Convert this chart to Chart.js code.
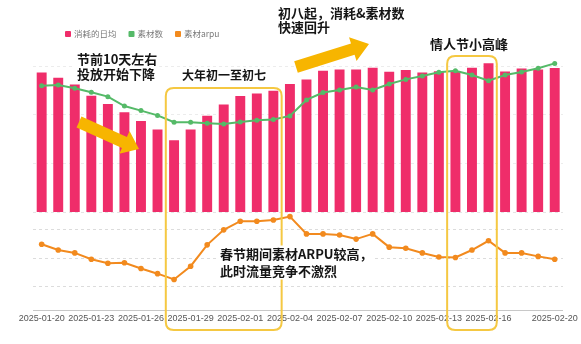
<!DOCTYPE html>
<html>
<head>
<meta charset="utf-8">
<script src="https://cdn.jsdelivr.net/npm/chart.js@4"></script>
<style>
  html, body { margin: 0; padding: 0; background: #fff; }
  #wrap { position: relative; width: 581px; height: 344px; }
</style>
</head>
<body>
<div id="wrap"><canvas id="chart" width="581" height="344"></canvas></div>
<script>
// Data
const dates = [
  '2025-01-20', '2025-01-21', '2025-01-22', '2025-01-23', '2025-01-24', '2025-01-25',
  '2025-01-26', '2025-01-27', '2025-01-28', '2025-01-29', '2025-01-30', '2025-01-31',
  '2025-02-01', '2025-02-02', '2025-02-03', '2025-02-04', '2025-02-05', '2025-02-06',
  '2025-02-07', '2025-02-08', '2025-02-09', '2025-02-10', '2025-02-11', '2025-02-12',
  '2025-02-13', '2025-02-14', '2025-02-15', '2025-02-16', '2025-02-17', '2025-02-18',
  '2025-02-19', '2025-02-20'
];
const spendDaily = [
  143.5, 138, 131.2, 119.5, 111, 102.7, 93.8, 85, 74, 85, 99, 110.6,
  119.2, 122, 124.6, 131.5, 136.3, 145.2, 146.6, 146.6, 148.2, 144.1, 145.9, 143.5,
  144.8, 144.8, 148.2, 152.8, 144.5, 147.6, 146.6, 147.9
];
const assetCount = [
  884, 887, 874, 858, 841, 804, 786, 767, 740, 740, 736, 733,
  741, 748, 751, 765, 828, 857, 867, 879, 867, 891, 909, 922,
  937, 943, 926, 904, 926, 938, 953, 972
];
const assetArpu = [
  2.74, 2.64, 2.59, 2.48, 2.41, 2.42, 2.32, 2.23, 2.13, 2.36, 2.73, 2.99,
  3.14, 3.14, 3.16, 3.22, 2.92, 2.92, 2.90, 2.83, 2.92, 2.69, 2.67, 2.59,
  2.52, 2.51, 2.64, 2.80, 2.59, 2.59, 2.53, 2.48
];
const seriesNames = ['消耗的日均', '素材数', '素材arpu'];
const barTicks = [0, 50, 100, 150];
const arpuTicks = [2, 2.5, 3];

const PINK = '#EF2D6A';
const GREEN = '#55BA68';
const ORANGE = '#F28A1E';
const GOLD = '#F7B500';
const BOX = '#F5C842';
const CJK = "'Noto Sans CJK SC', 'Noto Sans', sans-serif";

function roundRect(ctx, x, y, w, h, r) {
  ctx.beginPath();
  ctx.moveTo(x + r, y);
  ctx.lineTo(x + w - r, y);
  ctx.quadraticCurveTo(x + w, y, x + w, y + r);
  ctx.lineTo(x + w, y + h - r);
  ctx.quadraticCurveTo(x + w, y + h, x + w - r, y + h);
  ctx.lineTo(x + r, y + h);
  ctx.quadraticCurveTo(x, y + h, x, y + h - r);
  ctx.lineTo(x, y + r);
  ctx.quadraticCurveTo(x, y, x + r, y);
  ctx.closePath();
}

function drawArrow(ctx, x1, y1, x2, y2, shaft, headW, headL) {
  const a = Math.atan2(y2 - y1, x2 - x1);
  const len = Math.hypot(x2 - x1, y2 - y1);
  ctx.save();
  ctx.translate(x1, y1);
  ctx.rotate(a);
  ctx.beginPath();
  ctx.moveTo(0, -shaft / 2);
  ctx.lineTo(len - headL, -shaft / 2);
  ctx.lineTo(len - headL, -headW / 2);
  ctx.lineTo(len, 0);
  ctx.lineTo(len - headL, headW / 2);
  ctx.lineTo(len - headL, shaft / 2);
  ctx.lineTo(0, shaft / 2);
  ctx.closePath();
  ctx.fillStyle = GOLD;
  ctx.fill();
  ctx.restore();
}

function drawNote(ctx, lines, x, y, lineGap, size) {
  ctx.font = 'bold ' + size + 'px ' + CJK;
  ctx.textBaseline = 'middle';
  ctx.textAlign = 'left';
  let w = 0;
  lines.forEach(t => { w = Math.max(w, ctx.measureText(t).width); });
  ctx.fillStyle = '#fff';
  ctx.fillRect(x - 2, y - size / 2 - 2, w + 4, lineGap * (lines.length - 1) + size + 4);
  ctx.fillStyle = '#151515';
  lines.forEach((t, i) => ctx.fillText(t, x, y + i * lineGap));
}

/**
 * Legend, highlight boxes, arrows and notes
 */
const notesPlugin = {
  id: 'notes',
  afterDraw(chart) {
    const ctx = chart.ctx;
    const xs = chart.scales.x;
    const half = (xs.getPixelForValue(1) - xs.getPixelForValue(0)) / 2;
    ctx.save();

    // legend
    ctx.font = '8.5px ' + CJK;
    ctx.textBaseline = 'middle';
    let lx = 65;
    const colors = [PINK, GREEN, ORANGE];
    seriesNames.forEach((name, i) => {
      ctx.fillStyle = colors[i];
      roundRect(ctx, lx, 31, 6, 6, 1);
      ctx.fill();
      ctx.fillStyle = '#7a7a7a';
      ctx.fillText(name, lx + 9, 34);
      lx += 9 + ctx.measureText(name).width + 12;
    });

    // highlight boxes
    ctx.strokeStyle = BOX;
    ctx.lineWidth = 2;
    const b1l = xs.getPixelForValue(8) - half;
    const b1r = xs.getPixelForValue(14) + half;
    roundRect(ctx, b1l, 88, b1r - b1l, 242, 8);
    ctx.stroke();
    const b2l = xs.getPixelForValue(25) - half;
    const b2r = xs.getPixelForValue(27) + half;
    roundRect(ctx, b2l, 56, b2r - b2l, 274, 8);
    ctx.stroke();

    // arrows
    drawArrow(ctx, 79, 122, 139, 149, 12, 25, 16);
    drawArrow(ctx, 296, 67, 369, 44, 12, 25, 17);

    // notes
    drawNote(ctx, ['节前10天左右', '投放开始下降'], 77, 59, 15, 13);
    drawNote(ctx, ['大年初一至初七'], 182, 75, 15, 12);
    drawNote(ctx, ['初八起，消耗&素材数', '快速回升'], 278, 13, 14, 13);
    drawNote(ctx, ['情人节小高峰'], 430, 44, 15, 13);
    drawNote(ctx, ['春节期间素材ARPU较高，', '此时流量竞争不激烈'], 220, 254, 17, 13);

    ctx.restore();
  }
};

new Chart(document.getElementById('chart'), {
  data: {
    labels: dates,
    datasets: [
      {
        type: 'bar',
        label: seriesNames[0],
        data: spendDaily,
        yAxisID: 'yBar',
        backgroundColor: PINK,
        barPercentage: 0.6,
        categoryPercentage: 1,
        order: 3
      },
      {
        type: 'line',
        label: seriesNames[1],
        data: assetCount,
        yAxisID: 'yGreen',
        borderColor: GREEN,
        backgroundColor: GREEN,
        borderWidth: 2,
        pointRadius: 2.5,
        pointBorderWidth: 0,
        tension: 0,
        order: 1
      },
      {
        type: 'line',
        label: seriesNames[2],
        data: assetArpu,
        yAxisID: 'yArpu',
        borderColor: ORANGE,
        backgroundColor: ORANGE,
        borderWidth: 2,
        pointRadius: 2.8,
        pointBorderWidth: 0,
        tension: 0,
        order: 2
      }
    ]
  },
  options: {
    responsive: false,
    animation: false,
    layout: { padding: { left: 33.4, right: 16.7, top: 56.3, bottom: 17.2 } },
    plugins: {
      legend: { display: false },
      tooltip: { enabled: false }
    },
    scales: {
      x: {
        type: 'category',
        offset: true,
        grid: { display: false, drawTicks: false },
        border: { display: true, color: '#c8c8c8', width: 1 },
        ticks: {
          autoSkip: false,
          maxRotation: 0,
          minRotation: 0,
          padding: 3,
          color: '#555',
          font: { size: 9, family: "'Liberation Sans', Arial, sans-serif" },
          callback: function(value, index) {
            const show = (index % 3 === 0 && index < 30) || index === dates.length - 1;
            return show ? dates[index] : '';
          }
        }
      },
      yBar: {
        type: 'linear',
        position: 'left',
        min: -100,
        max: 160,
        afterBuildTicks: axis => { axis.ticks = barTicks.map(v => ({ value: v })); },
        ticks: { display: false },
        grid: {
          drawTicks: false,
          color: ctx => (ctx.tick && ctx.tick.value === 0 ? '#e4e4e4' : '#ececec')
        },
        border: { display: false, dash: [3, 3] }
      },
      yArpu: {
        type: 'linear',
        position: 'left',
        min: 1.6,
        max: 6.0,
        afterBuildTicks: axis => { axis.ticks = arpuTicks.map(v => ({ value: v })); },
        ticks: { display: false },
        grid: { drawTicks: false, color: '#dcdcdc' },
        border: { display: false, dash: [3, 3] }
      },
      yGreen: {
        type: 'linear',
        display: false,
        min: 0,
        max: 1000
      }
    }
  },
  plugins: [notesPlugin]
});
</script>
</body>
</html>
